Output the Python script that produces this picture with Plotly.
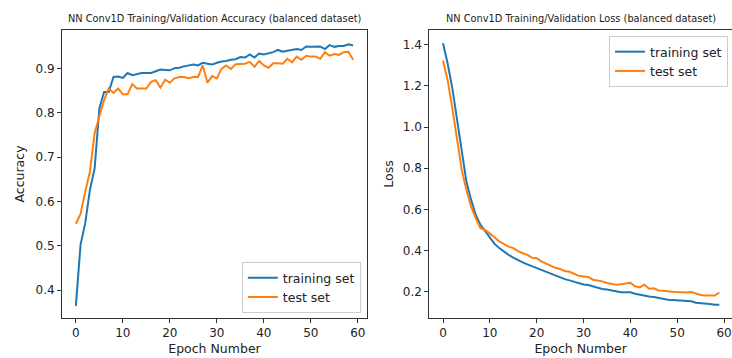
import plotly.graph_objects as go

epochs = list(range(60))

train_acc = [0.365, 0.503, 0.552, 0.627, 0.675, 0.81, 0.847, 0.847, 0.881, 0.882,
             0.879, 0.89, 0.885, 0.888, 0.89, 0.89, 0.89, 0.894, 0.898, 0.897,
             0.896, 0.901, 0.902, 0.905, 0.907, 0.909, 0.907, 0.913, 0.911, 0.909,
             0.913, 0.916, 0.917, 0.92, 0.921, 0.926, 0.925, 0.932, 0.925, 0.934,
             0.932, 0.935, 0.937, 0.942, 0.938, 0.94, 0.942, 0.944, 0.942, 0.95,
             0.949, 0.949, 0.95, 0.944, 0.953, 0.949, 0.951, 0.951, 0.955, 0.952]
test_acc = [0.55, 0.572, 0.623, 0.668, 0.755, 0.79, 0.829, 0.855, 0.845, 0.855,
            0.842, 0.842, 0.865, 0.855, 0.855, 0.855, 0.87, 0.874, 0.857, 0.875,
            0.868, 0.878, 0.881, 0.881, 0.878, 0.881, 0.881, 0.907, 0.868, 0.883,
            0.878, 0.9, 0.907, 0.899, 0.91, 0.91, 0.911, 0.915, 0.904, 0.917,
            0.907, 0.902, 0.912, 0.912, 0.911, 0.922, 0.914, 0.927, 0.92, 0.929,
            0.927, 0.927, 0.922, 0.937, 0.929, 0.933, 0.931, 0.937, 0.938, 0.92]
train_loss = [1.408, 1.308, 1.187, 1.033, 0.88, 0.734, 0.646, 0.573, 0.525, 0.492,
              0.46, 0.432, 0.412, 0.395, 0.379, 0.366, 0.352, 0.342, 0.333, 0.324,
              0.315, 0.307, 0.298, 0.287, 0.277, 0.271, 0.261, 0.255, 0.248, 0.242,
              0.235, 0.232, 0.226, 0.218, 0.213, 0.21, 0.205, 0.2, 0.197, 0.197,
              0.197, 0.19, 0.185, 0.181, 0.177, 0.174, 0.169, 0.164, 0.161, 0.159,
              0.157, 0.155, 0.153, 0.153, 0.146, 0.145, 0.142, 0.14, 0.137, 0.137]
test_loss = [1.324, 1.227, 1.09, 0.928, 0.791, 0.694, 0.613, 0.557, 0.508, 0.5,
             0.484, 0.465, 0.444, 0.431, 0.419, 0.412, 0.397, 0.387, 0.379, 0.365,
             0.363, 0.347, 0.336, 0.326, 0.316, 0.31, 0.3, 0.297, 0.287, 0.277,
             0.274, 0.271, 0.258, 0.255, 0.25, 0.242, 0.239, 0.234, 0.236, 0.24,
             0.243, 0.226, 0.221, 0.234, 0.214, 0.216, 0.206, 0.205, 0.201, 0.2,
             0.198, 0.196, 0.196, 0.198, 0.19, 0.184, 0.181, 0.181, 0.181, 0.196]

series_names = ["training set", "test set"]
titles = ["NN Conv1D Training/Validation Accuracy (balanced dataset)",
          "NN Conv1D Training/Validation Loss (balanced dataset)"]
x_title = "Epoch Number"
y_titles = ["Accuracy", "Loss"]

BLUE = "#1f77b4"
ORANGE = "#ff7f0e"
FONT = "DejaVu Sans"
AX = "#333333"

fig = go.Figure()
fig.add_trace(go.Scatter(x=epochs, y=train_acc, mode="lines", name=series_names[0],
                         line=dict(color=BLUE, width=2), xaxis="x", yaxis="y", legend="legend"))
fig.add_trace(go.Scatter(x=epochs, y=test_acc, mode="lines", name=series_names[1],
                         line=dict(color=ORANGE, width=2), xaxis="x", yaxis="y", legend="legend"))
fig.add_trace(go.Scatter(x=epochs, y=train_loss, mode="lines", name=series_names[0],
                         line=dict(color=BLUE, width=2), xaxis="x2", yaxis="y2", legend="legend2"))
fig.add_trace(go.Scatter(x=epochs, y=test_loss, mode="lines", name=series_names[1],
                         line=dict(color=ORANGE, width=2), xaxis="x2", yaxis="y2", legend="legend2"))

axis_common = dict(showline=True, linecolor=AX, linewidth=1, mirror=True, showgrid=False,
                   zeroline=False, ticks="outside", ticklen=4, tickcolor=AX, automargin=False,
                   tickfont=dict(family=FONT, size=12, color="#222"))

fig.update_layout(
    width=732, height=358,
    margin=dict(l=62, r=0, t=30, b=40, autoexpand=False),
    paper_bgcolor="white", plot_bgcolor="white",
    font=dict(family=FONT, color="#222"),
    xaxis=dict(domain=[0, 0.4552], range=[-2.95, 61.95], tickvals=[0, 10, 20, 30, 40, 50, 60],
               title=dict(text=x_title, font=dict(family=FONT, size=12.5), standoff=4),
               anchor="y", **axis_common),
    yaxis=dict(domain=[0, 1], range=[0.3375, 0.987], tickvals=[0.4, 0.5, 0.6, 0.7, 0.8, 0.9],
               tickformat=".1f", anchor="x",
               title=dict(text=y_titles[0], font=dict(family=FONT, size=12.5), standoff=8),
               **axis_common),
    xaxis2=dict(domain=[0.5482, 1], range=[-2.93, 61.7], tickvals=[0, 10, 20, 30, 40, 50, 60],
                title=dict(text=x_title, font=dict(family=FONT, size=12.5), standoff=4),
                anchor="y2", **axis_common),
    yaxis2=dict(domain=[0, 1], range=[0.072, 1.472], tickvals=[0.2, 0.4, 0.6, 0.8, 1.0, 1.2, 1.4],
                tickformat=".1f", anchor="x2",
                title=dict(text=y_titles[1], font=dict(family=FONT, size=12.5), standoff=6),
                **axis_common),
    legend=dict(x=0.446, y=0.017, xanchor="right", yanchor="bottom",
                bgcolor="white", bordercolor="#cccccc", borderwidth=1,
                font=dict(family=FONT, size=12.5), itemwidth=30, tracegroupgap=0),
    legend2=dict(x=0.994, y=0.979, xanchor="right", yanchor="top",
                 bgcolor="white", bordercolor="#cccccc", borderwidth=1,
                 font=dict(family=FONT, size=12.5), itemwidth=30, tracegroupgap=0),
    annotations=[
        dict(text=titles[0], x=0.2276, y=1.0, xref="paper", yref="paper",
             xanchor="center", yanchor="bottom", yshift=4, showarrow=False,
             font=dict(family=FONT, size=9.8, color="#222")),
        dict(text=titles[1], x=0.7741, y=1.0, xref="paper", yref="paper",
             xanchor="center", yanchor="bottom", yshift=4, showarrow=False,
             font=dict(family=FONT, size=9.8, color="#222")),
    ],
)

fig.write_html("out.html", config={"displayModeBar": False},
               post_script="document.body.style.margin='0';document.body.style.overflow='hidden';")
